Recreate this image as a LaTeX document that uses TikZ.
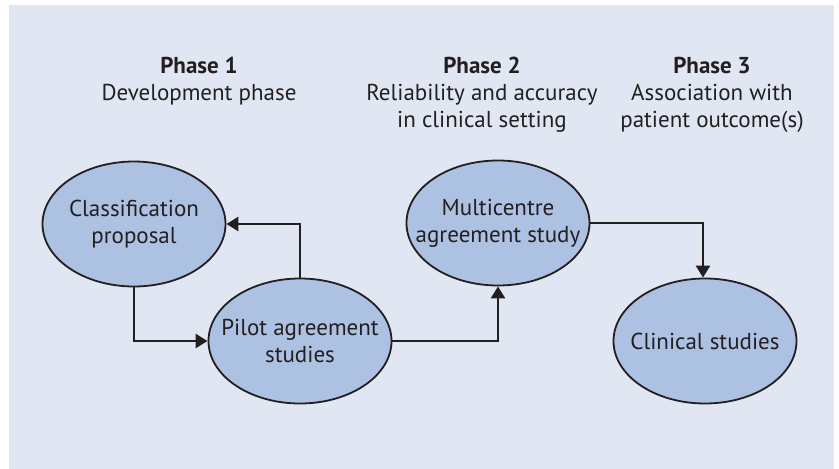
\documentclass[tikz,border=0pt]{standalone}
\usepackage{fontspec}
\setmainfont{PT Sans}
\usetikzlibrary{shapes.geometric,arrows.meta}
\definecolor{bgc}{HTML}{E0E7F3}
\definecolor{fillc}{HTML}{ADC1E3}
\definecolor{linec}{HTML}{231F20}
\tikzset{
  stage/.style={ellipse,draw=linec,line width=1.8pt,fill=fillc,minimum width=183pt,minimum height=125pt,inner sep=0pt},
  stagetext/.style={align=center,font=\fontsize{23}{27}\selectfont,text=linec,inner sep=0pt},
  link/.style={draw=linec,line width=2.6pt,-{Triangle[length=12pt,width=14pt]}},
  head/.style={align=center,font=\fontsize{23}{27}\selectfont,text=linec},
}
\begin{document}
\begin{tikzpicture}[x=1pt,y=-1pt]
\useasboundingbox (0,0) rectangle (839,469);
\fill[bgc] (9,5) rectangle (834,469);
\node[head] (h1) at (199,81) {\textbf{Phase 1}\\Development phase};
\node[head] (h2) at (482,94.5) {\textbf{Phase 2}\\Reliability and accuracy\\in clinical setting};
\node[head] (h3) at (712,94.5) {\textbf{Phase 3}\\Association with\\patient outcome(s)};
\node[stage, label={[stagetext]center:Classification\\proposal}] (cp) at (134,224) {};
\node[stage, label={[stagetext]center:Pilot agreement\\studies}] (pa) at (300,341) {};
\node[stage, label={[stagetext]center:Multicentre\\agreement study}] (ma) at (498,223) {};
\node[stage, label={[stagetext]center:Clinical studies}] (cs) at (705,341) {};
\draw[link] (cp.south) |- (pa.west);
\draw[link] (pa.north) |- (cp.east);
\draw[link] (pa.east) -| (ma.south);
\draw[link] (ma.east) -| ([xshift=-2pt]cs.north);
\end{tikzpicture}
\end{document}
